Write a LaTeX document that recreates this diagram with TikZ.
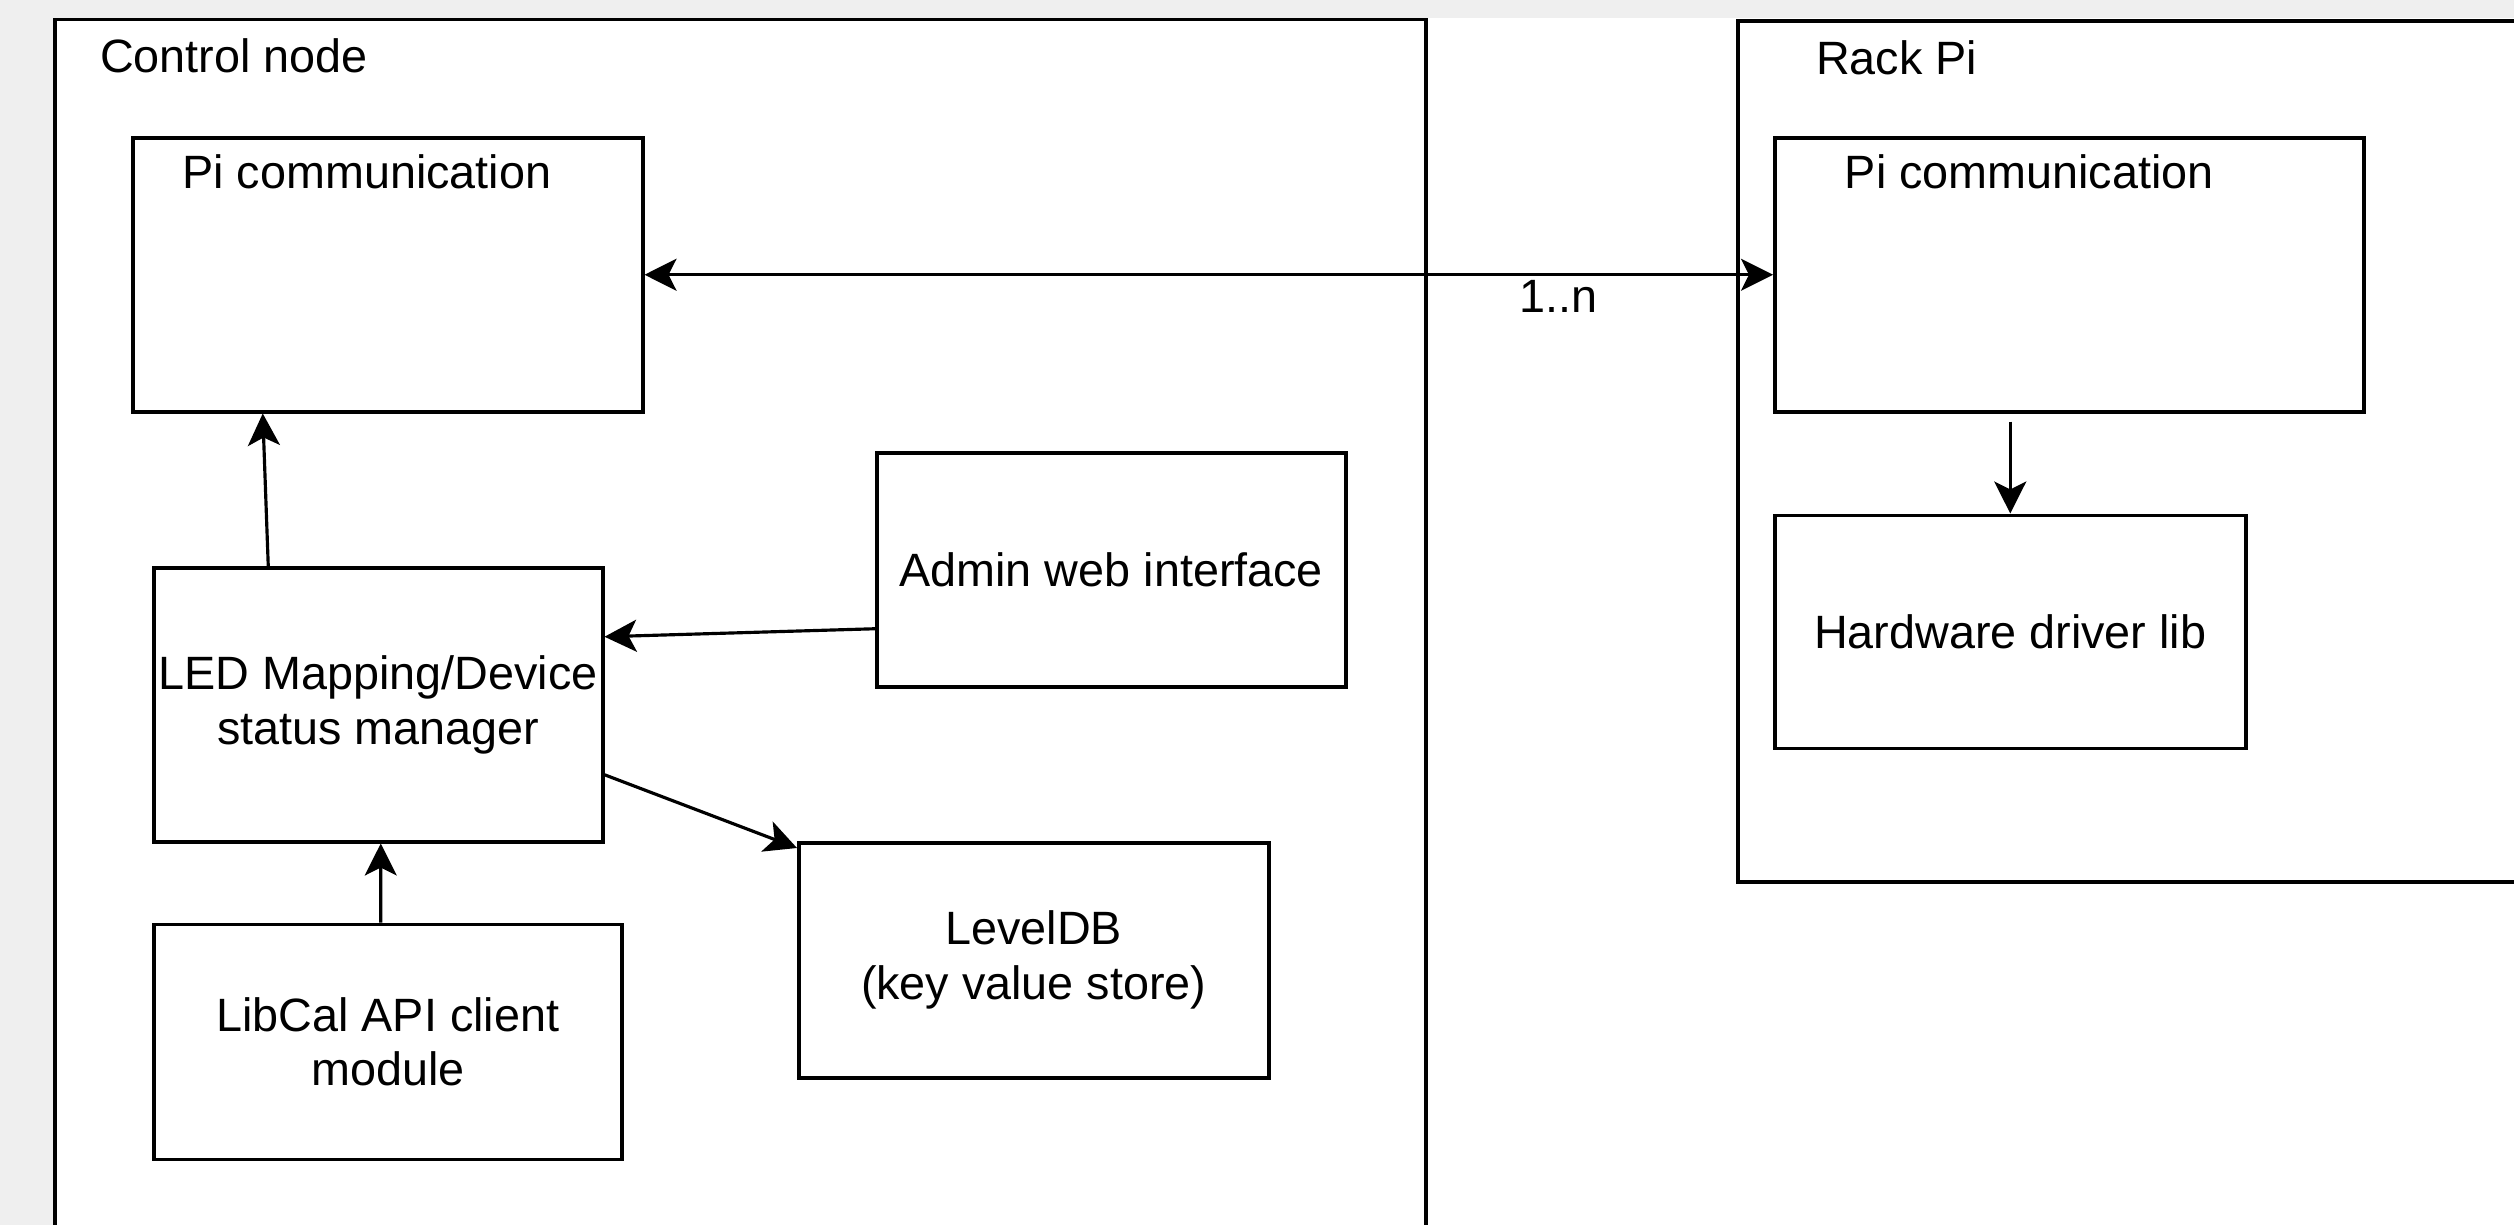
\documentclass[tikz,border=0pt]{standalone}
\usepackage{fontspec}
\setmainfont{Liberation Sans}
\usetikzlibrary{shapes,arrows.meta,positioning,calc}
\definecolor{pagegrey}{RGB}{239,239,239}

\begin{document}
\begin{tikzpicture}[
    >={Stealth[length=0.32cm, width=0.32cm, inset=0.08cm]},
    container/.style={rectangle, draw, line width=1pt, anchor=north west, inner sep=0pt},
    block/.style={rectangle, draw, line width=1pt, anchor=north west, align=center,
                  inner sep=1pt, font=\fontsize{13.3}{15.6}\selectfont},
    lbl/.style={font=\fontsize{13.3}{15.6}\selectfont, inner sep=1pt},
    arrow/.style={->, line width=0.9pt},
    biarrow/.style={<->, line width=0.9pt}
]
\clip (0,0) rectangle (25.14,-12.25);
\fill[pagegrey] (0,0) rectangle (25.14,-12.25);
\fill[white] (0.53,-0.18) rectangle (25.14,-12.25);

%% -- Containers ----------------------------------------------------
\node[container, minimum width=13.71cm, minimum height=12.4cm] (ctrl) at (0.53,-0.18) {};
\node[lbl, anchor=west] (ctrllbl) at ([xshift=0.43cm, yshift=-0.38cm]ctrl.north west) {Control node};

\node[container, minimum width=7.94cm, minimum height=8.61cm] (rack) at (17.36,-0.19) {};
\node[lbl, anchor=west] (racklbl) at ([xshift=0.76cm, yshift=-0.39cm]rack.north west) {Rack Pi};

%% -- Control node blocks -------------------------------------------
\node[block, minimum width=5.10cm, minimum height=2.74cm] (picomL) at (1.31,-1.36) {};
\node[lbl] (picomLlbl) at ([xshift=-0.21cm, yshift=-0.36cm]picomL.north) {Pi communication};

\node[block, minimum width=4.69cm, minimum height=2.34cm] (admin) at (8.75,-4.51) {Admin web interface};

\node[block, minimum width=4.49cm, minimum height=2.74cm] (led) at (1.52,-5.66)
    {LED Mapping/Device\\status manager};

\node[block, below=0.79cm of led.south west, anchor=north west,
      minimum width=4.68cm, minimum height=2.35cm] (libcal) {LibCal API client\\module};

\node[block, minimum width=4.70cm, minimum height=2.35cm] (leveldb) at (7.97,-8.41)
    {LevelDB\\(key value store)};

%% -- Rack Pi blocks ------------------------------------------------
\node[block, minimum width=5.89cm, minimum height=2.74cm] (picomR) at (17.73,-1.36) {};
\node[lbl] (picomRlbl) at ([xshift=-0.40cm, yshift=-0.36cm]picomR.north) {Pi communication};

\node[block, below=1.0cm of picomR.south west, anchor=north west,
      minimum width=4.71cm, minimum height=2.33cm] (hwlib) {Hardware driver lib};

%% -- Arrows --------------------------------------------------------
\draw[biarrow] (picomL.east) -- node[lbl, pos=0.81, below] {1..n} (picomR.west);
\draw[arrow] ([xshift=-1.10cm]led.north) -- ([xshift=-1.25cm]picomL.south);
\draw[arrow] ([xshift=-0.07cm]libcal.north) -- ([xshift=0.025cm]led.south);
\draw[arrow] ([yshift=-0.59cm]admin.west) -- ([yshift=0.68cm]led.east);
\draw[arrow] ([yshift=-0.70cm]led.east) -- ([yshift=-0.07cm]leveldb.north west);
\draw[arrow, shorten <=0.08cm] (picomR.south -| hwlib.north) -- (hwlib.north);
\end{tikzpicture}
\end{document}
